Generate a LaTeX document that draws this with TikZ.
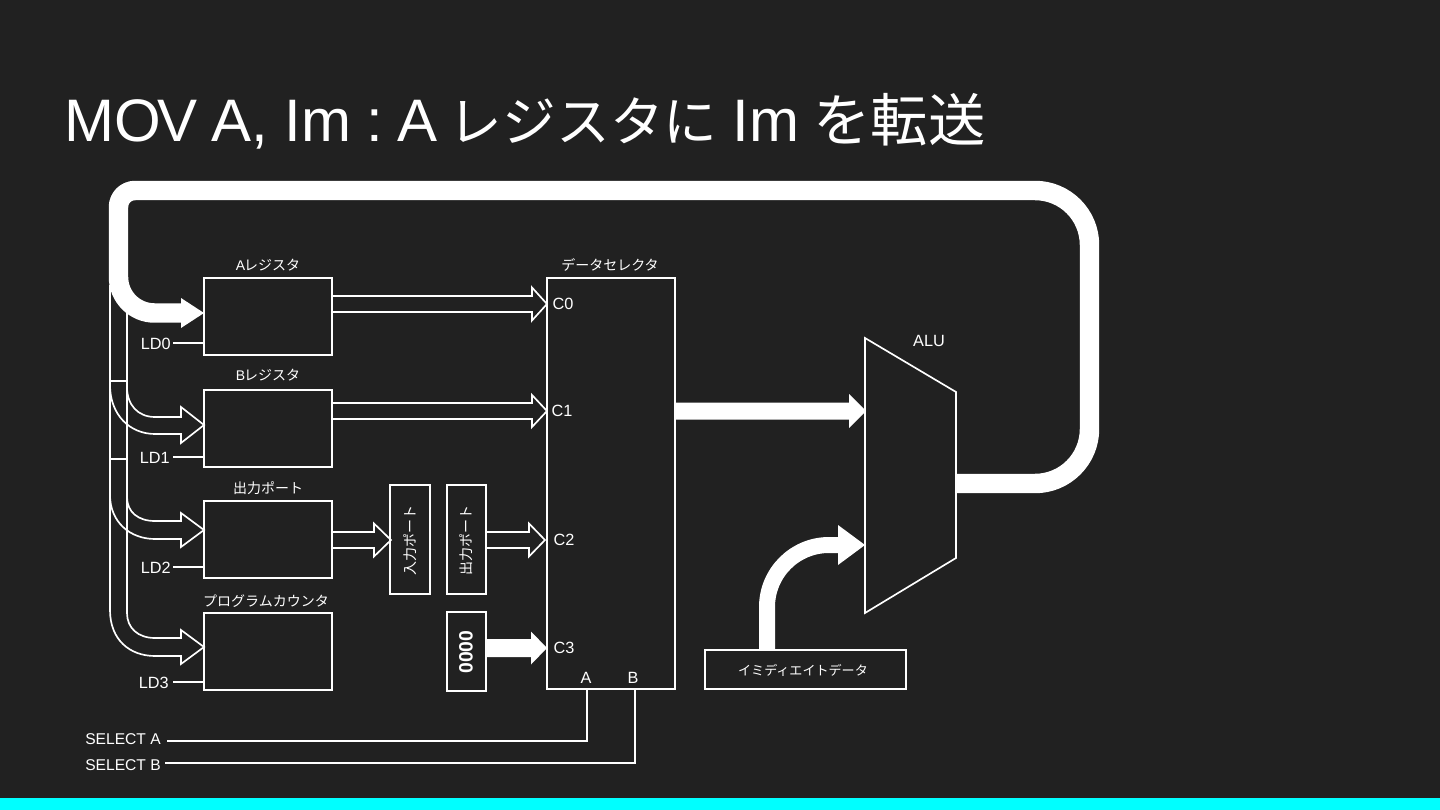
\documentclass[tikz,border=0pt]{standalone}
\usepackage{fontspec}
\setmainfont{Liberation Sans}
\newfontfamily\cjk{Noto Sans CJK JP}
\usetikzlibrary{calc}
\definecolor{bgc}{HTML}{212121}
\definecolor{barc}{HTML}{00FFFF}
\def\px{0.75pt}
\tikzset{
  x=0.75pt,y=-0.75pt,
  thinline/.style={draw=white,line width=1.25pt,line join=miter},
  regbox/.style={draw=white,fill=bgc,line width=1.25pt,inner sep=0pt,outer sep=0pt},
  lab/.style={text=white,inner sep=0pt,font=\fontsize{12.2pt}{13pt}\selectfont},
  jlab/.style={text=white,inner sep=0pt,font=\fontsize{10.5pt}{12pt}\selectfont\cjk},
  bus/.style={draw=white,line width=14.6pt,line cap=butt,line join=round},
}
% arrow outline: from, to, half shaft, half head, head length
\newcommand{\arrowcoords}[5]{%
  \coordinate (hs) at (#1);
  \coordinate (ha) at ($(#2)+(-#5,-#3)$);
  \coordinate (hb) at ($(#2)+(-#5,-#4)$);
  \coordinate (hc) at ($(#2)+(-#5,#4)$);
  \coordinate (hd) at ($(#2)+(-#5,#3)$);}
\newcommand{\hollowarrow}[5]{\arrowcoords{#1}{#2}{#3}{#4}{#5}%
  \draw[thinline] (ha -| hs) -- (ha) -- (hb) -- (#2) -- (hc) -- (hd) -- (hd -| hs);}
\newcommand{\solidarrow}[5]{\arrowcoords{#1}{#2}{#3}{#4}{#5}%
  \fill[white] (ha -| hs) -- (ha) -- (hb) -- (#2) -- (hc) -- (hd) -- (hd -| hs) -- cycle;}
\begin{document}
\begin{tikzpicture}
\useasboundingbox (0,0) rectangle (1440,810);
\fill[bgc] (0,0) rectangle (1440,810);
\fill[barc] (0,798) rectangle (1440,810);

\node[anchor=base west,text=white,inner sep=0pt,font=\fontsize{45pt}{50pt}\selectfont] (title) at (64,141)
  {MO\kern-2.5pt V\kern-2pt\ A, Im\kern-1.5pt\ :\kern-1.5pt\ A\kern-4pt\ {\fontsize{40.3pt}{50pt}\selectfont\cjk レジスタに}\kern-1pt\ Im\kern-2pt\ {\fontsize{43pt}{50pt}\selectfont\cjk を転送}};

% boxes
\node[regbox,minimum width=128*\px,minimum height=77*\px] (areg) at (268,316.5) {};
\node[regbox,minimum width=128*\px,minimum height=77*\px] (breg) at (268,428.5) {};
\node[regbox,minimum width=128*\px,minimum height=77*\px] (oreg) at (268,539.5) {};
\node[regbox,minimum width=128*\px,minimum height=77*\px] (pc) at (268,651.5) {};
\node[regbox,minimum width=128*\px,minimum height=411*\px] (sel) at (611,483.5) {};
\node[regbox,minimum width=40*\px,minimum height=109*\px] (inp) at (410,539.5) {};
\node[regbox,minimum width=39*\px,minimum height=109*\px] (outp) at (466.5,539.5) {};
\node[regbox,minimum width=39*\px,minimum height=79*\px] (zero) at (466.5,651.5) {};
\node[regbox,minimum width=201*\px,minimum height=39*\px] (imm) at (805.5,669.5) {};

% ALU
\coordinate (alu1) at (865,338);
\coordinate (alu2) at (956,392);
\coordinate (alu3) at (956,558);
\coordinate (alu4) at (865,613);
\draw[thinline,line join=miter] (alu1) -- (alu2) -- (alu3) -- (alu4) -- cycle;
\coordinate (aluout) at (956,483.5);
\coordinate (aluin) at (866,411);
\coordinate (aluin2) at (865,545);

% main bus
\coordinate (atip) at (204,313);
\draw[bus] (aluout) -- (1035,483.5) arc[start angle=90,end angle=0,radius=54.5] -- (1089.5,245) arc[start angle=0,end angle=-90,radius=54.5] -- (135,190.5) arc[start angle=-90,end angle=-180,radius=16.5] -- (118.5,277) arc[start angle=180,end angle=90,radius=36] -- (182,313);
\fill[white] (181,298) -- (atip) -- (181,328) -- cycle;

% bus wires on the left
\coordinate (lA) at (110,285);
\coordinate (lB) at (127,310);
\coordinate (pctip) at (204,647);
\coordinate (btip) at (204,425);
\coordinate (otip) at (204,530);
\draw[thinline] (lA) -- (110,610) .. controls (110,640) and (130,656) .. (155,656) -- (181,656) -- (181,664) -- (pctip) -- (181,630) -- (181,638) -- (155,638) .. controls (138,638) and (127,628) .. (127,613) -- (lB);
\draw[thinline] (110,381) -- (127,381);
\draw[thinline] (110,459) -- (127,459);
\draw[thinline] (110,385) .. controls (110,415) and (130,434) .. (155,434) -- (181,434) -- (181,443) -- (btip) -- (181,407) -- (181,417) -- (155,417) .. controls (138,417) and (127,405) .. (127,387);
\draw[thinline] (110,495) .. controls (110,522) and (130,539) .. (155,539) -- (181,539) -- (181,547) -- (otip) -- (181,513) -- (181,521) -- (155,521) .. controls (138,521) and (127,512) .. (127,497);

% LD lines
\coordinate (ld0) at (173,343);
\coordinate (ld1) at (173,457);
\coordinate (ld2) at (173,567);
\coordinate (ld3) at (173,682);
\draw[thinline] (ld0) -- (ld0 -| areg.west);
\draw[thinline] (ld1) -- (ld1 -| breg.west);
\draw[thinline] (ld2) -- (ld2 -| oreg.west);
\draw[thinline] (ld3) -- (ld3 -| pc.west);
\node[lab,anchor=east] (tld0) at (171,343.5) {LD0};
\node[lab,anchor=east] (tld1) at (170,457.5) {LD1};
\node[lab,anchor=east] (tld2) at (171,567.5) {LD2};
\node[lab,anchor=east] (tld3) at (169,682.5) {LD3};

% arrows between blocks
\coordinate (c0) at (547,304);
\coordinate (c1) at (547,411);
\coordinate (c2) at (545,540);
\coordinate (c3) at (547,648);
\coordinate (ipt) at (391,540);
\hollowarrow{areg.east}{c0}{8}{16.5}{15}
\hollowarrow{breg.east}{c1}{8}{16}{15}
\hollowarrow{oreg.east}{ipt}{8}{16.5}{17}
\hollowarrow{outp.east}{c2}{8}{16.5}{16}
\solidarrow{zero.east}{c3}{9}{16.5}{16}
\solidarrow{sel.east}{aluin}{8.5}{17}{17}

% immediate arrow
\coordinate (immx) at (767,650);
\draw[white,line width=12pt] (immx) -- (767,607) arc[start angle=180,end angle=270,radius=62] -- (839,545);
\fill[white] (838,525) -- (aluin2) -- (838,565) -- cycle;

% select lines
\coordinate (sa) at (167,741);
\coordinate (sb) at (165,763);
\draw[thinline] (sa) -- (587,741) -- (587,0 |- sel.south);
\draw[thinline] (sb) -- (635,763) -- (635,0 |- sel.south);
\node[lab,anchor=east,font=\fontsize{11.7pt}{13pt}\selectfont] (tsa) at (161,739.5) {SELECT A};
\node[lab,anchor=east,font=\fontsize{11.7pt}{13pt}\selectfont] (tsb) at (161,765) {SELECT B};

% labels
\node[jlab] (ta) at (268,265) {{\fontspec{Liberation Sans}A}\kern-1pt レジスタ};
\node[jlab] (tb) at (268,375) {{\fontspec{Liberation Sans}B}\kern-1pt レジスタ};
\node[jlab] (to) at (268,488) {出力ポート};
\node[jlab] (tp) at (266,601) {プログラムカウンタ};
\node[jlab] (ts) at (610,265) {データセレクタ};
\node[jlab,font=\fontsize{9.8pt}{12pt}\selectfont\cjk] (ti) at (803,670) {イミディエイトデータ};
\node[jlab,rotate=90] (ti2) at (410,540) {入力ポート};
\node[jlab,rotate=90] (to2) at (466,540) {出力ポート};
\node[text=white,inner sep=0pt,rotate=90,font=\fontsize{14.5pt}{15pt}\selectfont\bfseries] (t0) at (466,652) {0000};
\node[lab] (c0t) at (563,304) {C0};
\node[lab] (c1t) at (562,411) {C1};
\node[lab] (c2t) at (564,540) {C2};
\node[lab] (c3t) at (564,648) {C3};
\node[lab] (at) at (586,678) {A};
\node[lab] (bt) at (633,678) {B};
\node[lab] (alut) at (929,341) {ALU};
\end{tikzpicture}
\end{document}
